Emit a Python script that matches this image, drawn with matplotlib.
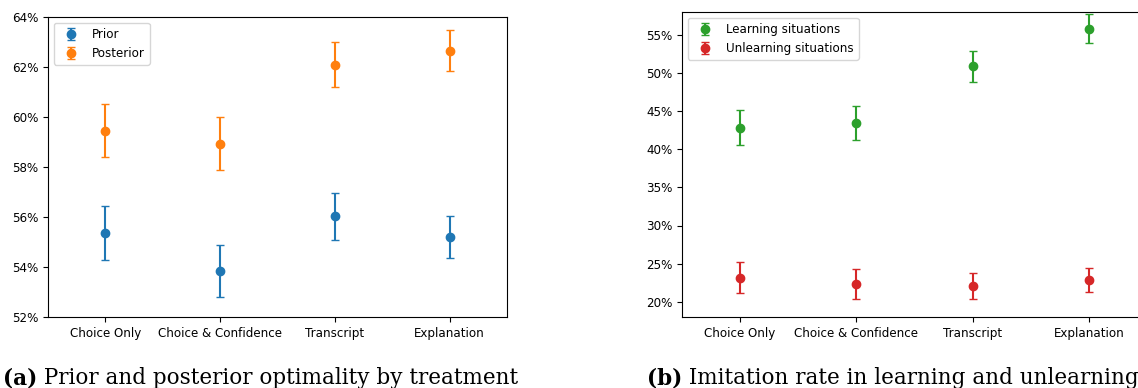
import matplotlib
matplotlib.use("Agg")
import matplotlib.pyplot as plt
from matplotlib.ticker import PercentFormatter
import numpy as np

# Treatments shown on both panels
treatments = ["Choice Only", "Choice & Confidence", "Transcript", "Explanation"]

# Panel (a): optimality (%) with error half-widths
prior_mean = [55.36, 53.84, 56.03, 55.21]
prior_err = [1.07, 1.05, 0.93, 0.85]
posterior_mean = [59.45, 58.94, 62.10, 62.65]
posterior_err = [1.06, 1.05, 0.90, 0.82]

# Panel (b): imitation rate (%) with error half-widths
learning_mean = [42.84, 43.41, 50.89, 55.83]
learning_err = [2.30, 2.20, 2.05, 1.85]
unlearning_mean = [23.15, 22.36, 22.06, 22.89]
unlearning_err = [2.00, 2.00, 1.70, 1.60]

W, H = 1138, 388
fig = plt.figure(figsize=(W / 100, H / 100), dpi=100)

def px_axes(left, right, top, bottom):
    return fig.add_axes([left / W, 1 - bottom / H, (right - left) / W, (bottom - top) / H])

tick_fs = 8.6
x = np.arange(len(treatments))

# (a) prior vs posterior optimality
ax1 = px_axes(48, 507, 17, 317)
ax1.errorbar(x, prior_mean, yerr=prior_err, fmt="o", color="tab:blue",
             capsize=3, label="Prior")
ax1.errorbar(x, posterior_mean, yerr=posterior_err, fmt="o", color="tab:orange",
             capsize=3, label="Posterior")
ax1.set_xlim(-0.5, 3.5)
ax1.set_ylim(52, 64)
ax1.set_yticks(np.arange(52, 64.1, 2))
ax1.yaxis.set_major_formatter(PercentFormatter(decimals=0))
ax1.set_xticks(x)
ax1.set_xticklabels(treatments)
ax1.tick_params(labelsize=tick_fs)
ax1.legend(loc="upper left", fontsize=tick_fs)

# (b) imitation in learning vs unlearning situations
ax2 = px_axes(682, 1147, 12, 317)
ax2.errorbar(x, learning_mean, yerr=learning_err, fmt="o", color="tab:green",
             capsize=3, label="Learning situations")
ax2.errorbar(x, unlearning_mean, yerr=unlearning_err, fmt="o", color="tab:red",
             capsize=3, label="Unlearning situations")
ax2.set_xlim(-0.5, 3.5)
ax2.set_ylim(18, 58)
ax2.set_yticks(np.arange(20, 56, 5))
ax2.yaxis.set_major_formatter(PercentFormatter(decimals=0))
ax2.set_xticks(x)
ax2.set_xticklabels(treatments)
ax2.tick_params(labelsize=tick_fs)
ax2.legend(loc="upper left", fontsize=tick_fs)

# Sub-figure captions
cap_fs = 15.5
for xpos, tag, text in [(3, "(a)", " Prior and posterior optimality by treatment"),
                        (647, "(b)", " Imitation rate in learning and unlearning")]:
    t = fig.text(xpos / W, 1 - 384 / H, tag, fontsize=cap_fs, fontweight="bold",
                 family="DejaVu Serif", va="baseline", ha="left")
    fig.canvas.draw()
    bb = t.get_window_extent()
    fig.text(bb.x1 / W, 1 - 384 / H, text, fontsize=cap_fs,
             family="DejaVu Serif", va="baseline", ha="left")

fig.savefig("out.png", dpi=100)
